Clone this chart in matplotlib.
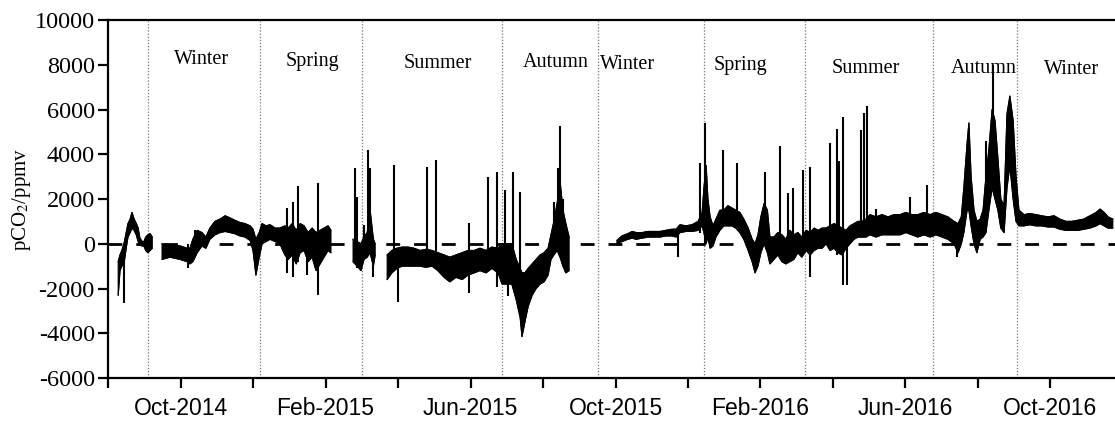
import numpy as np
import matplotlib
matplotlib.use("Agg")
import matplotlib.pyplot as plt

nan = np.nan

# time axis: months after 1 Aug 2014
band_t = [0.28, 0.33, 0.38, 0.44, 0.50, 0.55, 0.61, 0.66, 0.72, 0.78, 0.83, 0.88, 0.94, 0.99, 1.04, 1.10, 1.16, 1.22,
          1.30,
          1.49, 1.71, 1.99, 2.18, 2.26, 2.34, 2.46, 2.59, 2.70, 2.81, 2.95, 3.09, 3.23, 3.37, 3.50, 3.64, 3.78, 3.92,
          4.00, 4.08, 4.17, 4.25, 4.36, 4.47, 4.61, 4.74, 4.88, 4.97, 5.08, 5.19, 5.30, 5.41, 5.52, 5.63, 5.74, 5.85,
          5.96, 6.07, 6.15,
          6.40,
          6.76, 6.87, 6.98, 7.06, 7.15, 7.23, 7.32, 7.37,
          7.50,
          7.70, 7.83, 7.97, 8.11, 8.28, 8.44, 8.61, 8.77, 8.94, 9.10, 9.27, 9.43, 9.60, 9.77, 9.93, 10.10, 10.26,
          10.43, 10.59, 10.76, 10.87, 11.14, 11.26, 11.37, 11.42, 11.50, 11.59, 11.70, 11.81, 11.92, 12.03, 12.14,
          12.22, 12.30, 12.39, 12.47, 12.55, 12.63, 12.72,
          13.30,
          14.04, 14.18, 14.34, 14.46, 14.57, 14.73, 14.90, 15.06, 15.23, 15.39, 15.56, 15.67, 15.78, 15.94, 16.11,
          16.28, 16.39, 16.44, 16.50, 16.55, 16.61, 16.69, 16.77, 16.88, 16.99, 17.10, 17.21, 17.32, 17.43, 17.54,
          17.66, 17.77, 17.85, 17.93, 18.01, 18.10, 18.19, 18.26, 18.37, 18.48, 18.59, 18.70, 18.81, 18.92, 19.03,
          19.14, 19.26, 19.37, 19.48, 19.59, 19.70, 19.81, 19.92, 20.03, 20.14, 20.25, 20.36, 20.47, 20.58, 20.69,
          20.80, 20.91, 21.02, 21.19, 21.35, 21.52, 21.68, 21.85, 22.01, 22.18, 22.34, 22.51, 22.68, 22.84, 23.01,
          23.17, 23.34, 23.45, 23.54, 23.61, 23.70, 23.75, 23.81, 23.89, 23.97, 24.06, 24.14, 24.22, 24.30, 24.39,
          24.47, 24.55, 24.63, 24.72, 24.80, 24.88, 24.97, 25.05, 25.13, 25.27, 25.43, 25.60, 25.76, 25.93, 26.10,
          26.26, 26.43, 26.59, 26.76, 26.92, 27.09, 27.26, 27.37, 27.48, 27.59, 27.72]

band_lo = [-2300, -1200, -1000, -900, -200, 300, 500, 700, 600, 400, 100, -50, -100, -100, -300, -400, -300, -200,
           nan,
           -700, -600, -700, -800, -900, -800, -400, -100, -200, 200, 400, 500, 550, 500, 450, 350, 300, 150,
           -300, -1400, -600, 0, 100, 200, 100, 0, -500, -700, -500, -900, -400, -300, -800, -600, -1200, -900,
           -600, -300, -400,
           nan,
           -800, -1000, -1200, -700, -600, -400, -1000, -500,
           nan,
           -1600, -1300, -1100, -1000, -1000, -1000, -1000, -1050, -1000, -1200, -1500, -1700, -1500, -1600, -1400, -1300, -1200,
           -1300, -1100, -1300, -1800, -1800, -2500, -3300, -4150, -3500, -2800, -2300, -2000, -1800, -1700, -1400,
           -700, -500, -300, -600, -1000, -1300, -1200,
           nan,
           0, 100, 200, 250, 200, 250, 300, 300, 300, 350, 350, 300, 500, 550, 550,
           600, 800, 500, 0, 300, -200, -100, 300, 600, 800, 800, 800, 700, 500, 200,
           -300, -800, -1300, -1000, -400, 0, -400, -900, -700, -500, -800, -900, -800, -700, -400,
           -600, -300, -500, -300, -200, -200, 0, -300, -200, -400, -500, -200, 0, 200, 300,
           300, 300, 400, 300, 400, 400, 400, 400, 500, 400, 300, 400, 300, 400, 300,
           200, 0, -400, 0, 500, 1500, 1500, 800, 0, -400, 200, 300, 500, 1500, 2500,
           2000, 1500, 700, 500, 2500, 3500, 2000, 1000, 800, 800, 850, 800, 800, 750, 750,
           650, 600, 600, 600, 650, 700, 800, 900, 800, 700, 700]

band_hi = [-800, -500, -300, 0, 500, 900, 1100, 1400, 1100, 900, 700, 250, 100, 100, 300, 400, 450, 300,
           nan,
           0, -50, -100, -200, -200, 200, 600, 500, 300, 700, 1000, 1100, 1250, 1150, 1050, 950, 900, 800,
           650, 200, 500, 900, 800, 850, 700, 700, 800, 700, 900, 600, 900, 800, 500, 700, 500, 600,
           700, 800, 600,
           nan,
           200, 100, 0, 300, 500, 1500, 200, 0,
           nan,
           -500, -300, -200, -150, -150, -200, -300, -250, -300, -400, -500, -600, -500, -400, -300, -300, -200,
           -300, -150, -200, 0, 0, -700, -1100, -1300, -1300, -1100, -900, -700, -500, -400, -200,
           400, 1000, 1800, 2800, 1500, 900, 300,
           nan,
           150, 350, 450, 550, 500, 500, 550, 550, 550, 600, 650, 650, 850, 800, 850,
           1000, 1400, 2500, 3500, 2000, 1200, 800, 1100, 1500, 1500, 1700, 1600, 1500, 1400, 1100,
           700, 200, 0, 400, 1200, 1800, 1500, 300, 300, 500, 400, 200, 600, 400, 500,
           300, 600, 500, 700, 600, 700, 700, 800, 900, 800, 700, 600, 800, 900, 1000,
           1000, 1100, 1300, 1200, 1300, 1200, 1300, 1300, 1400, 1300, 1300, 1400, 1300, 1400, 1300,
           1200, 1000, 900, 1200, 2500, 4500, 5400, 3000, 1500, 1000, 1100, 1500, 3000, 4200, 6000,
           5500, 3800, 2000, 1700, 5800, 6600, 5500, 3000, 1500, 1300, 1350, 1300, 1250, 1200, 1250,
           1100, 1000, 1000, 1050, 1100, 1250, 1400, 1550, 1400, 1200, 1100]

# short excursions (time, low end, high end)
spike_t = [0.44, 2.21, 2.40, 4.94, 5.10, 5.24, 5.49, 5.79,
           6.80, 6.88, 7.05, 7.16, 7.22, 7.30,
           7.89, 8.00, 8.80, 9.05, 9.96, 10.48, 10.73, 10.95, 11.03, 11.17, 11.37,
           12.30, 12.42, 12.47, 12.55, 12.64,
           15.72, 16.33, 16.47, 16.97, 17.35, 18.12, 18.54, 18.76, 18.90, 19.17, 19.37,
           19.92, 20.11, 20.17, 20.28, 20.39, 20.77, 20.86, 20.94, 21.19, 22.13, 22.59,
           23.42, 24.22, 24.42]
spike_lo = [-2650, -1070, -300, -1300, -1500, -800, -1400, -2300,
            -900, -1100, -600, -500, 0, -1500,
            -500, -2600, -600, -700, -2200, -600, -1950, -1000, -2350, -1500, -1500,
            -200, 0, 0, -500, -1300,
            -570, 500, 0, 1000, 800, 1000, -500, -800, -500, -500, -1470,
            -300, -500, 0, -1830, -1830, 300, 300, 300, 800, 800, 800,
            -600, 1000, 3000]
spike_hi = [-500, 0, 620, 1600, 1870, 2560, 500, 2730,
            3400, 2100, 850, 4200, 3400, 300,
            3530, -400, 3440, 3750, 940, 3000, 3220, 2400, 0, 3220, 2300,
            1850, 3400, 5250, 2000, 700,
            400, 3600, 5400, 4200, 3600, 3200, 4350, 2280, 2500, 3300, 3440,
            4500, 5150, 3700, 5650, 500, 5100, 5860, 6170, 1560, 2100, 2640,
            500, 4600, 8000]

season_names = ["Winter", "Spring", "Summer", "Autumn", "Winter", "Spring", "Summer", "Autumn", "Winter"]
season_bounds = [1.10, 4.19, 7.01, 10.87, 13.52, 16.44, 19.23, 22.76, 25.08]
label_x = [2.59, 5.63, 9.10, 12.36, 14.34, 17.46, 20.91, 24.17, 26.59]
label_y = [8225, 8135, 8046, 8090, 8000, 7957, 7822, 7822, 7778]

tick_months = list(range(0, 28, 2))
tick_names = {2: "Oct-2014", 6: "Feb-2015", 10: "Jun-2015", 14: "Oct-2015",
              18: "Feb-2016", 22: "Jun-2016", 26: "Oct-2016"}

plt.rcParams['mathtext.fontset'] = 'stix'

fig = plt.figure(figsize=(11.15, 4.21), dpi=100)
ax = fig.add_axes([0.0969, 0.1021, 0.9031, 0.8504])

t = np.array(band_t)
lo = np.array(band_lo, dtype=float)
hi = np.array(band_hi, dtype=float)
ax.fill_between(t, lo, hi, color='black', lw=0.8, edgecolor='black', zorder=3)
ax.plot(t, lo, color='black', lw=0.8, zorder=3)
ax.plot(t, hi, color='black', lw=0.8, zorder=3)
ax.vlines(spike_t, spike_lo, spike_hi, color='black', lw=1.5, zorder=3)

ax.axhline(0, color='black', lw=2.0, dashes=(5.0, 5.0), zorder=4)

for b in season_bounds:
    ax.axvline(b, color='#777777', lw=0.9, ls=(0, (1, 1.5)), zorder=1)

for name, lx, ly in zip(season_names, label_x, label_y):
    ax.text(lx, ly, name, ha='center', va='center', fontsize=14.5,
            family='Liberation Serif', zorder=5)

ax.set_xlim(0, 27.78)
ax.set_ylim(-6000, 10000)
ax.set_yticks(np.arange(-6000, 10001, 2000))
ax.set_yticklabels([str(v) for v in range(-6000, 10001, 2000)], family='Liberation Serif', fontsize=17.5)
ax.set_xticks(tick_months)
ax.set_xticklabels([tick_names.get(m, "") for m in tick_months], family='Liberation Sans', fontsize=16.5)
ax.tick_params(axis='x', direction='out', length=7, width=1.6, pad=7)
ax.tick_params(axis='y', direction='out', length=7.5, width=1.6, pad=2)
ax.set_ylabel('pCO$_2$/ppmv', family='Liberation Serif', fontsize=15, labelpad=1)

for side in ['left', 'bottom', 'top']:
    ax.spines[side].set_linewidth(1.6)
ax.spines['right'].set_visible(False)

fig.savefig('out.png', dpi=100)
